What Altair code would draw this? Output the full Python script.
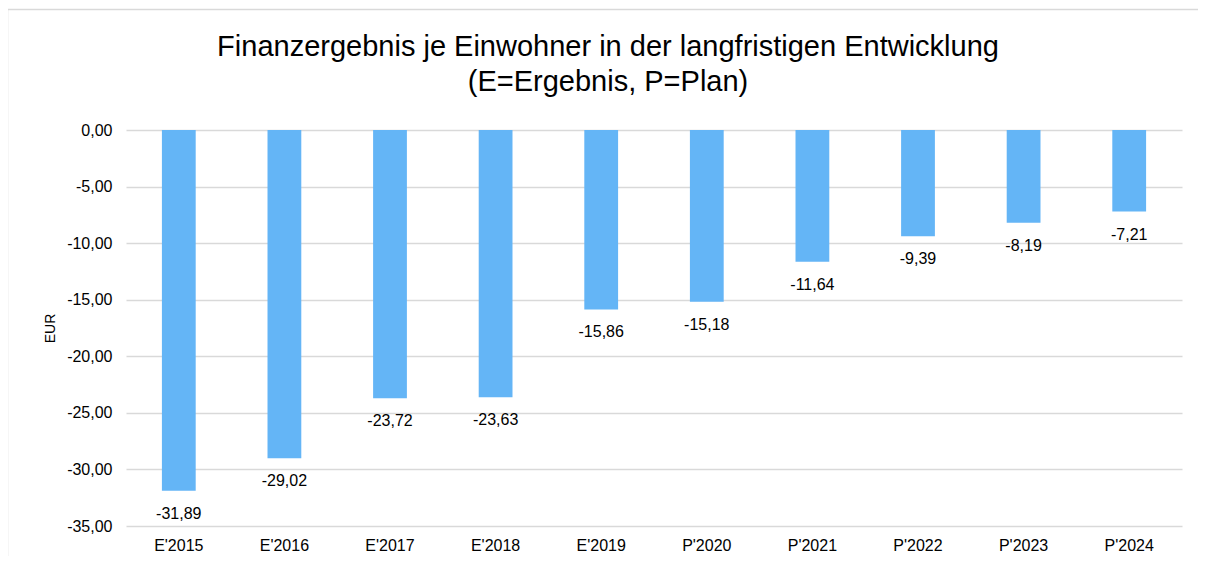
import altair as alt
import pandas as pd

categories = ["E'2015", "E'2016", "E'2017", "E'2018", "E'2019",
              "P'2020", "P'2021", "P'2022", "P'2023", "P'2024"]
values = [-31.89, -29.02, -23.72, -23.63, -15.86,
          -15.18, -11.64, -9.39, -8.19, -7.21]
y_ticks = [0, -5, -10, -15, -20, -25, -30, -35]
title_lines = ["Finanzergebnis je Einwohner in der langfristigen Entwicklung",
               "(E=Ergebnis, P=Plan)"]

df = pd.DataFrame({"Jahr": categories, "Wert": values})

FONT = "Liberation Sans"

base = alt.Chart(df)

x_enc = alt.X("Jahr:N", sort=categories,
              scale=alt.Scale(paddingInner=0.68, paddingOuter=0.34),
              axis=alt.Axis(title=None, labelAngle=0, labelFontSize=16,
                            labelColor="#000000", labelFont=FONT,
                            labelPadding=11, domain=False, ticks=False,
                            grid=False))
y_enc = alt.Y("Wert:Q",
              scale=alt.Scale(domain=[-35, 0], nice=False, zero=True),
              axis=alt.Axis(title="EUR", values=y_ticks, format=".2f",
                            labelFontSize=16, labelColor="#000000",
                            labelFont=FONT, labelPadding=14,
                            titleFont=FONT, titleFontSize=14,
                            titleFontWeight="normal", titleColor="#000000",
                            titlePadding=9,
                            domain=False, ticks=False, grid=True,
                            gridColor="#d9d9d9", gridWidth=1.5))

frame = alt.Chart(pd.DataFrame({"f": [0]})).mark_rect(
    fill=None, stroke="#d9d9d9", strokeWidth=1.5
).encode(x=alt.value(-118.5), x2=alt.value(1200),
         y=alt.value(-120.5), y2=alt.value(600))

bars = base.mark_bar(color="#64B5F6").encode(x=x_enc, y=y_enc)

labels = base.mark_text(baseline="top", dy=15, fontSize=16, font=FONT,
                        color="#000000").encode(
    x=alt.X("Jahr:N", sort=categories),
    y="Wert:Q",
    text=alt.Text("Wert:Q", format=".2f"))

chart = alt.layer(frame, bars, labels).properties(
    width=1056, height=396,
    title=alt.TitleParams(text=title_lines, fontSize=29, font=FONT,
                          fontWeight="normal", color="#000000",
                          anchor="middle", dx=-46, offset=-88,
                          lineHeight=35),
    autosize=alt.AutoSizeParams(type="none"),
    padding={"left": 118, "top": 122, "right": 16, "bottom": 30},
).configure(
    locale={"number": {"decimal": ",", "thousands": ".", "grouping": [3],
                       "currency": ["", " €"], "minus": "-"}}
).configure_view(stroke=None)

chart.save("out.html", embed_options={"renderer": "svg", "actions": False})
